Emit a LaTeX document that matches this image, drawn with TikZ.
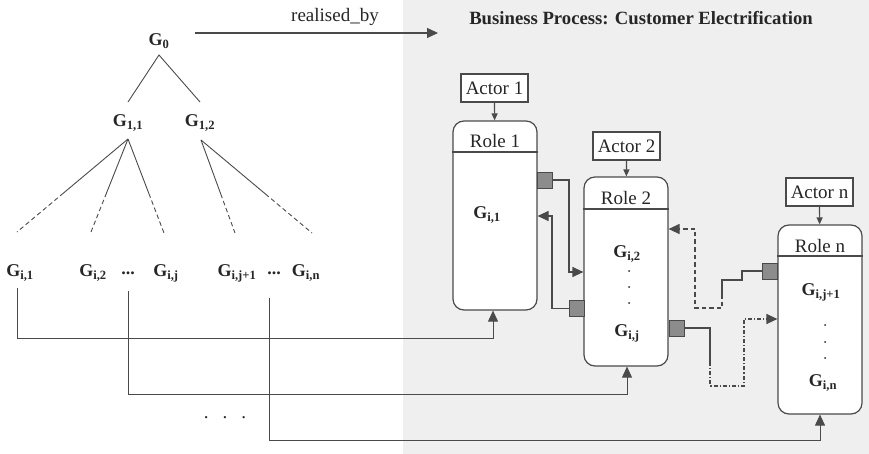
\documentclass[tikz,border=0pt]{standalone}
\usepackage{fontspec}
\setmainfont{Liberation Serif}
\usetikzlibrary{arrows.meta,calc}
\definecolor{linec}{HTML}{4A4A4A}
\definecolor{textc}{HTML}{262626}
\definecolor{bgc}{HTML}{EFEFEF}
\definecolor{portc}{HTML}{8C8C8C}
\begin{document}
\begin{tikzpicture}[x=1pt,y=-1pt,
  line/.style={draw=linec, line width=1.2pt},
  thinline/.style={draw=linec, line width=0.9pt},
  bigtip/.style={-{Triangle[length=11pt,width=10pt]}},
  smalltip/.style={-{Triangle[length=7pt,width=6pt]}},
  glab/.style={font=\fontsize{18}{18}\selectfont\bfseries, text=textc, inner sep=0pt},
  plain/.style={font=\fontsize{19}{19}\selectfont, text=textc, inner sep=0pt},
  titlelab/.style={font=\fontsize{18.7}{18.7}\selectfont\bfseries, text=textc, inner sep=0pt},
  actorbox/.style={draw=linec, line width=1.2pt, fill=white, minimum width=67pt, minimum height=28pt, font=\fontsize{19}{19}\selectfont, text=textc, inner sep=0pt},
  rolebox/.style={draw=linec, line width=1.2pt, fill=white, rounded corners=11pt, minimum width=84pt, inner sep=0pt},
  port/.style={draw=linec, fill=portc, minimum width=15pt, minimum height=16pt, inner sep=0pt, line width=0.9pt},
  dashdot/.style={dash pattern=on 4pt off 2pt on 1.2pt off 2pt},
  dash4/.style={dash pattern=on 4.5pt off 3pt},
]
\useasboundingbox (0,0) rectangle (869,454);
\fill[bgc] (403,0) rectangle (869,454);

% title and realised_by
\node[titlelab] (title) at (641,18) {Business Process: Customer Electrification};
\coordinate (rbs) at (195,33);
\coordinate (rbe) at (438,33);
\draw[line, bigtip] (rbs) -- (rbe);
\node[plain] (rb) at (335,17) {realised\_by};

% tree
\node[glab] (g0) at (159,41) {G\textsubscript{0}};
\node[glab] (g11) at (128,123) {G\textsubscript{1,1}};
\node[glab] (g12) at (200,123) {G\textsubscript{1,2}};
\coordinate (t0) at (159,55);
\coordinate (t11) at (128,102);
\coordinate (t12) at (200,102);
\draw[thinline] (t11) -- (t0) -- (t12);

\node[glab] (gi1) at (20,273) {G\textsubscript{i,1}};
\node[glab] (gi2) at (93,273) {G\textsubscript{i,2}};
\node[glab] (dd1) at (128,273) {...};
\node[glab] (gij) at (166,273) {G\textsubscript{i,j}};
\node[glab] (gij1) at (237,273) {G\textsubscript{i,j+1}};
\node[glab] (dd2) at (274,273) {...};
\node[glab] (gin) at (306,273) {G\textsubscript{i,n}};

\coordinate (b11) at (128,139);
\coordinate (b12) at (201,140);
\coordinate (e1) at (17,232);
\coordinate (e2) at (91,232);
\coordinate (e3) at (164,233);
\coordinate (e4) at (235,233);
\coordinate (e5) at (312,233);
\foreach \s/\e in {b11/e1,b11/e2,b11/e3,b12/e4,b12/e5}{
  \draw[thinline] (\s) -- ($(\s)!0.58!(\e)$);
  \draw[thinline, dash4] ($(\s)!0.58!(\e)$) -- (\e);
}

\node[plain] (dots) at (225,418) {.\hspace{14pt}.\hspace{14pt}.};

% actors and roles
\node[actorbox] (a1) at (494.5,88) {Actor 1};
\node[actorbox] (a2) at (626.5,146) {Actor 2};
\node[actorbox] (an) at (819.5,192) {Actor n};

\node[rolebox, minimum height=189pt] (r1) at (495,215.5) {};
\node[rolebox, minimum height=189pt] (r2) at (626,271.5) {};
\node[rolebox, minimum height=189pt] (r3) at (820,319.5) {};

\draw[line] (r1.west |- 0,152) -- (r1.east |- 0,152);
\draw[line] (r2.west |- 0,209) -- (r2.east |- 0,209);
\draw[line] (r3.west |- 0,256) -- (r3.east |- 0,256);

\node[plain, anchor=base] (l1) at (495,148) {Role 1};
\node[plain, anchor=base] (l2) at (626,205) {Role 2};
\node[plain, anchor=base] (l3) at (820,252) {Role n};

\draw[line, smalltip] (a1) -- (r1);
\draw[line, smalltip] (a2) -- (r2);
\draw[line, smalltip] (an) -- (r3);

\node[glab] (r1g) at (487,215) {G\textsubscript{i,1}};
\node[glab] (r2g1) at (627,254) {G\textsubscript{i,2}};
\node[glab] (r2g2) at (627,333) {G\textsubscript{i,j}};
\node[glab] (r3g1) at (821,292) {G\textsubscript{i,j+1}};
\node[glab] (r3g2) at (823,383) {G\textsubscript{i,n}};
\foreach \yy in {271,287,303} \fill[textc] (629,\yy) circle (1pt);
\foreach \yy in {325,342,358} \fill[textc] (825,\yy) circle (1pt);

% ports
\node[port] (p1) at (544.5,180) {};
\node[port] (p2a) at (576.5,308.5) {};
\node[port] (p2b) at (676.5,328) {};
\node[port] (p3) at (770,271) {};

\draw[line, bigtip] (p1.east) -| (569,272) -- (r2.west |- 0,272);
\draw[line, bigtip] (p2a.west) -| (552,216) -- (r1.east |- 0,216);
\draw[line] (p2b.east) -| (710,362);
\draw[line, dashdot, bigtip] (710,362) -- (710,386) -- (744,386) -- (744,319) -- (r3.west |- 0,319);
\draw[line] (p3.west) -| (742,280) -| (722,294);
\draw[line, dash4, bigtip] (722,294) |- (695,308) -- (695,229) -- (r2.east |- 0,229);

% bottom connectors
\coordinate (s1) at (17,288);
\coordinate (s2) at (128,291);
\coordinate (s3) at (269,298);
\draw[thinline, bigtip] (s1) |- (493,338) -- (r1.south -| 493,0);
\draw[thinline, bigtip] (s2) |- (627,394) -- (r2.south -| 627,0);
\draw[thinline, bigtip] (s3) |- (820,440) -- (r3.south);
\end{tikzpicture}
\end{document}
